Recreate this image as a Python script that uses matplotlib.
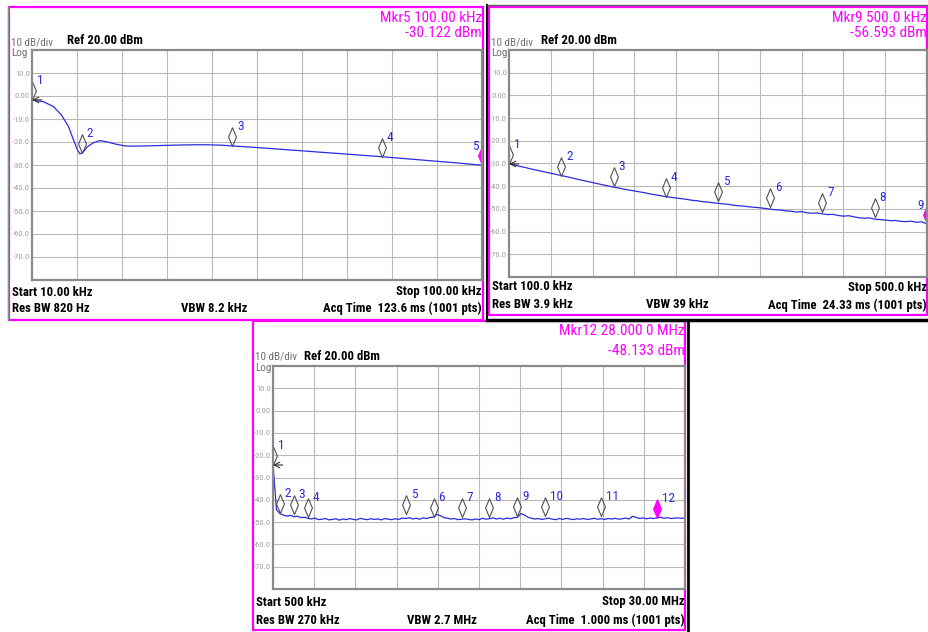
import numpy as np
import matplotlib
matplotlib.use('Agg')
import matplotlib.pyplot as plt
from matplotlib.path import Path
from matplotlib import font_manager as fm

# narrow sans like the analyzer screen font, if one is installed
avail = {f.name for f in fm.fontManager.ttflist}
narrow = None
for cand in ['Liberation Sans Narrow', 'Arial Narrow', 'Roboto Condensed', 'Open Sans Condensed']:
    if cand in avail:
        narrow = cand
        break
if narrow:
    plt.rcParams['font.family'] = [narrow, 'Liberation Sans', 'DejaVu Sans']
    k = 1.0
else:
    plt.rcParams['font.family'] = ['Liberation Sans', 'DejaVu Sans']
    k = 0.84

# ---- panel 1 : 10 kHz .. 100 kHz
p1_freq = [10.0, 12.3, 14.3, 15.9, 17.3, 18.3, 19.1, 19.6, 20.3, 21.1, 22.3, 23.6, 24.9, 26.9,
           28.6, 30, 33, 36, 40, 43, 45, 48, 50, 55, 60, 65, 70, 75, 80, 85, 90, 95, 100]
p1_level = [-1.7, -2.5, -4.6, -8.3, -13.3, -19.1, -23.5, -25.2, -24.2, -22.0, -20.3, -19.4, -19.9,
            -21.0, -21.7, -21.8, -21.7, -21.5, -21.3, -21.2, -21.2, -21.4, -21.7, -22.4, -23.2,
            -24.0, -24.8, -25.6, -26.4, -27.3, -28.2, -29.1, -30.1]
p1_mk_freq = [10, 20, 50, 80, 100]
p1_mk_level = [-1.7, -24.8, -21.7, -26.4, -30.122]

# ---- panel 2 : 100 kHz .. 500 kHz (5 kHz steps)
p2_freq = list(range(100, 505, 5))
p2_level = [-30.0, -30.6, -31.2, -31.7, -32.3, -32.8, -33.3, -33.8, -34.3, -34.8,
            -35.3, -35.8, -36.3, -36.9, -37.4, -37.9, -38.4, -38.9, -39.4, -39.9,
            -40.4, -40.8, -41.3, -41.7, -42.1, -42.5, -42.9, -43.4, -43.8, -44.2,
            -44.6, -44.9, -45.2, -45.5, -45.8, -46.2, -46.4, -46.8, -47.0, -47.3,
            -47.5, -47.8, -48.0, -48.4, -48.6, -48.8, -49.1, -49.3, -49.5, -49.8,
            -50.1, -50.4, -50.5, -50.9, -51.0, -51.4, -51.2, -51.7, -51.9, -51.8,
            -52.2, -52.5, -52.4, -52.9, -53.2, -53.0, -53.5, -53.9, -54.1, -54.0,
            -54.5, -54.7, -54.9, -55.2, -55.1, -55.5, -55.6, -55.4, -55.9, -55.7,
            -56.6]
p2_mk_freq = [100, 150, 200, 250, 300, 350, 400, 450, 500]
p2_mk_level = [-30.2, -35.5, -39.9, -44.6, -46.4, -49.2, -51.2, -53.4, -56.593]

# ---- panel 3 : 0.5 MHz .. 30 MHz (0.25 MHz steps)
p3_freq = [0.5 + 0.25 * i for i in range(119)]
p3_level = [-24.0, -44.5, -46.2, -46.9, -47.3, -47.0, -47.6, -47.4, -48.0, -47.8,
            -48.3, -48.6, -48.2, -48.9, -48.7, -48.4, -49.0, -48.8, -48.5, -49.1,
            -48.6, -48.9, -48.4, -48.8, -49.0, -48.3, -48.7, -48.9, -48.5, -48.8,
            -48.6, -49.0, -48.4, -48.7, -48.9, -48.5, -48.8, -48.2, -48.4, -48.0,
            -48.6, -48.3, -48.7, -48.1, -48.4, -47.9, -47.8, -46.5, -47.2, -48.0,
            -48.3, -48.6, -48.4, -48.9, -48.7, -48.5, -48.8, -49.0, -48.6, -48.9,
            -48.3, -48.7, -48.5, -48.1, -48.6, -48.3, -48.7, -48.2, -48.5, -48.0,
            -47.9, -46.2, -46.8, -47.8, -48.3, -48.6, -48.4, -48.8, -48.5, -48.2,
            -48.7, -48.9, -48.4, -48.8, -48.3, -48.6, -48.9, -48.5, -48.7, -48.4,
            -48.8, -48.6, -48.3, -48.7, -48.5, -48.8, -48.4, -48.6, -48.3, -48.7,
            -48.5, -48.2, -48.6, -47.4, -47.9, -48.4, -48.1, -48.5, -48.2, -48.4,
            -48.1, -47.8, -48.3, -48.0, -48.4, -48.2, -48.1, -48.3, -48.2]
p3_mk_freq = [0.5, 1, 2, 3, 10, 12, 14, 16, 18, 20, 24, 28]
p3_mk_level = [-24.4, -45.8, -46.4, -47.6, -46.4, -47.6, -47.9, -47.6, -47.1, -47.1, -47.1, -48.133]

y_ticks = [10, 0, -10, -20, -30, -40, -50, -60, -70]
y_labels = ['10.0', '0.00', '-10.0', '-20.0', '-30.0', '-40.0', '-50.0', '-60.0', '-70.0']

W, H = 929, 632
MAG = '#ff00ff'
BLUE = '#2b2be0'

fig = plt.figure(figsize=(W / 100, H / 100), dpi=100)
fig.patch.set_facecolor('white')

# background axes in pixel coords, for frames and the header/footer text
bg = fig.add_axes([0, 0, 1, 1], zorder=-1)
bg.set_xlim(0, W)
bg.set_ylim(H, 0)
bg.axis('off')


def px_axes(l, t, r, b):
    return fig.add_axes([l / W, 1 - b / H, (r - l) / W, (b - t) / H])


diamond = Path([(0, 0), (0.42, 1), (0, 2), (-0.42, 1), (0, 0)],
               [Path.MOVETO, Path.LINETO, Path.LINETO, Path.LINETO, Path.CLOSEPOLY])


def panel(box, frame, f0, f1, freq, level, mk_freq, mk_level, right_edge_label,
          mkr_txt, txt_pos):
    ax = px_axes(*box)
    ax.set_xlim(f0, f1)
    ax.set_ylim(-80, 20)
    ax.set_xticks(np.linspace(f0, f1, 11)[1:-1])
    ax.set_xticklabels([])
    ax.set_yticks(y_ticks)
    ax.set_yticklabels(y_labels, color='#a0a0a0', fontsize=6.1 * k)
    ax.tick_params(length=0, pad=1.5)
    ax.grid(True, color='#b8b8b8', lw=0.8)
    for s in ax.spines.values():
        s.set_color('#8a8a8a')
        s.set_linewidth(1.6)
    ax.plot(freq, level, color=BLUE, lw=0.9)

    n = len(mk_freq)
    for i, (f, v) in enumerate(zip(mk_freq, mk_level)):
        active = i == n - 1
        ax.plot(f, v, marker=diamond, ms=27, mew=0.8,
                mec=MAG if active else '#505050',
                mfc=MAG if active else 'none', clip_on=True)
        if active and right_edge_label:
            ax.annotate(str(i + 1), (f, v), xytext=(-2.5, 13.5), textcoords='offset points',
                        ha='right', va='center', color=BLUE, fontsize=9.5 * k)
        else:
            ax.annotate(str(i + 1), (f, v), xytext=(3.5, 14), textcoords='offset points',
                        ha='left', va='center', color=BLUE, fontsize=9.5 * k)
    # arrow for the marker sitting on the left edge
    ax.annotate('', xy=(mk_freq[0], mk_level[0]), xytext=(7, 0), textcoords='offset points',
                arrowprops=dict(arrowstyle='->', color='#303030', lw=0.8,
                                shrinkA=0, shrinkB=0))

    l, t, r, b = box
    fl, ft, fr, fb = frame
    bg.add_patch(plt.Rectangle((fl, ft), fr - fl, fb - ft, fill=False, ec=MAG, lw=1.6))

    (m1y, m2y), (dby, logy, refx), (sty, rby, vbx) = txt_pos
    bg.text(r, m1y, mkr_txt[0], ha='right', va='center', color=MAG, fontsize=11 * k)
    bg.text(r, m2y, mkr_txt[1], ha='right', va='center', color=MAG, fontsize=11 * k)
    bg.text(fl + 2, dby, '10 dB/div', ha='left', va='center', color='#707070', fontsize=8 * k)
    bg.text(fl + 2, logy, 'Log', ha='left', va='center', color='#707070', fontsize=8 * k)
    bg.text(refx, dby - 1, 'Ref 20.00 dBm', ha='left', va='center', color='black',
            fontsize=9.2 * k, fontweight='bold')
    for x, y, s, ha in [(fl + 3, sty, mkr_txt[2], 'left'), (fl + 3, rby, mkr_txt[3], 'left'),
                        (vbx, rby, mkr_txt[4], 'center'), (r, sty, mkr_txt[5], 'right'),
                        (r, rby, mkr_txt[6], 'right')]:
        bg.text(x, y, s, ha=ha, va='center', fontsize=9.2 * k, fontweight='bold')
    return ax


panel((32, 50, 482, 280), (9, 7, 483, 320), 10, 100, p1_freq, p1_level,
      p1_mk_freq, p1_mk_level, True,
      ['Mkr5 100.00 kHz', '-30.122 dBm', 'Start 10.00 kHz', 'Res BW 820 Hz',
       'VBW 8.2 kHz', 'Stop 100.00 kHz', 'Acq Time  123.6 ms (1001 pts)'],
      ((18, 33), (42, 53, 67), (292, 308, 214)))

panel((509, 50, 927, 277), (489, 7, 927, 315), 100, 500, p2_freq, p2_level,
      p2_mk_freq, p2_mk_level, True,
      ['Mkr9 500.0 kHz', '-56.593 dBm', 'Start 100.0 kHz', 'Res BW 3.9 kHz',
       'VBW 39 kHz', 'Stop 500.0 kHz', 'Acq Time  24.33 ms (1001 pts)'],
      ((18, 33), (42, 53, 541), (287, 305, 677)))

panel((273, 366, 685, 589), (253, 321, 685, 630), 0.5, 30, p3_freq, p3_level,
      p3_mk_freq, p3_mk_level, False,
      ['Mkr12 28.000 0 MHz', '-48.133 dBm', 'Start 500 kHz', 'Res BW 270 kHz',
       'VBW 2.7 MHz', 'Stop 30.00 MHz', 'Acq Time  1.000 ms (1001 pts)'],
      ((331, 351), (357, 368, 304), (602, 620, 442)))

# dark edges of the screenshots
bg.plot([8, 8], [7, 320], color='#909090', lw=1)
bg.plot([487, 487], [5, 318], color='black', lw=1.5)
bg.plot([487, 929], [5, 5], color='#606060', lw=1)
bg.plot([487, 929], [319.5, 319.5], color='black', lw=2.5)
bg.plot([688, 688], [320, 632], color='black', lw=2)

fig.savefig('out.png', dpi=100)
